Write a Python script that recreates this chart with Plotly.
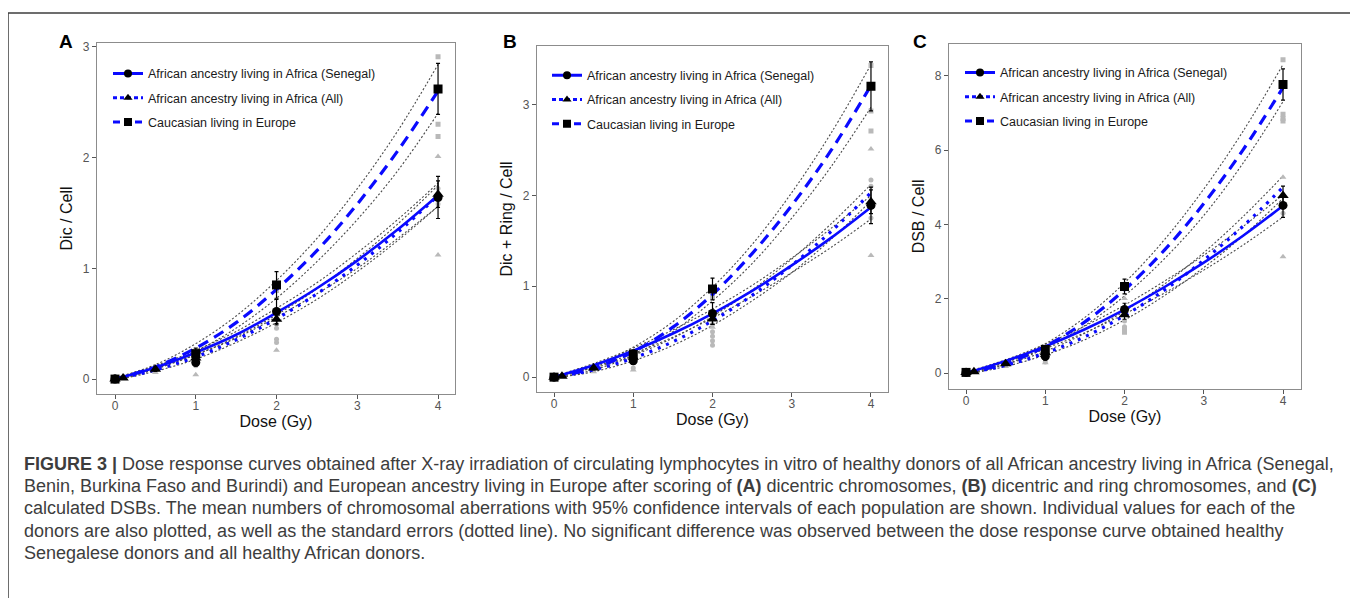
import plotly.graph_objects as go

# the page body adds an 8px margin, so the figure is drawn 8px smaller and shifted
OFF = 8
W, H = 1358 - OFF, 598 - OFF

# ---------------- data ----------------
DOSE_GRID = [0, 0.5, 1, 1.5, 2, 2.5, 3, 3.5, 4]

SERIES_NAMES = ["African ancestry living in Africa (Senegal)",
                "African ancestry living in Africa (All)",
                "Caucasian living in Europe"]

# Panel A : Dic / Cell
A_SEN_FIT = [0, 0.105, 0.24, 0.40, 0.60, 0.82, 1.07, 1.35, 1.66]
A_SEN_UP = [0.01, 0.12, 0.26, 0.43, 0.64, 0.87, 1.14, 1.44, 1.77]
A_SEN_LO = [-0.01, 0.09, 0.22, 0.37, 0.56, 0.77, 1.00, 1.27, 1.56]
A_ALL_FIT = [0, 0.083, 0.20, 0.355, 0.545, 0.77, 1.03, 1.325, 1.656]
A_ALL_UP = [0.01, 0.10, 0.22, 0.38, 0.58, 0.815, 1.09, 1.40, 1.75]
A_ALL_LO = [-0.01, 0.07, 0.18, 0.33, 0.51, 0.72, 0.97, 1.25, 1.56]
A_EUR_FIT = [0, 0.11, 0.28, 0.51, 0.81, 1.16, 1.58, 2.06, 2.60]
A_EUR_UP = [0.01, 0.13, 0.32, 0.57, 0.89, 1.27, 1.72, 2.24, 2.84]
A_EUR_LO = [-0.01, 0.09, 0.25, 0.46, 0.73, 1.06, 1.44, 1.88, 2.40]
A_SEN_X = [0, 1, 2, 4]
A_SEN_Y = [0.0, 0.15, 0.61, 1.64]
A_SEN_ERR = [0.01, 0.03, 0.11, 0.19]
A_ALL_X = [0, 0.1, 0.5, 1, 2, 4]
A_ALL_Y = [0.0, 0.01, 0.09, 0.19, 0.54, 1.67]
A_ALL_ERR = [0.005, 0.01, 0.02, 0.03, 0.05, 0.12]
A_EUR_X = [0, 1, 2, 4]
A_EUR_Y = [0.0, 0.23, 0.85, 2.62]
A_EUR_ERR = [0.01, 0.05, 0.12, 0.23]
A_SEN_IND_X = [0, 0, 1, 1, 2, 2, 2, 4, 4]
A_SEN_IND_Y = [0.0, 0.01, 0.12, 0.18, 0.46, 0.36, 0.33, 1.72, 1.58]
A_ALL_IND_X = [0.5, 1, 2, 4, 4]
A_ALL_IND_Y = [0.06, 0.04, 0.26, 2.01, 1.12]
A_EUR_IND_X = [0, 1, 2, 4, 4, 4]
A_EUR_IND_Y = [0.0, 0.20, 0.80, 2.91, 2.30, 2.19]

# Panel B : Dic + Ring / Cell
B_SEN_FIT = [0, 0.13, 0.29, 0.48, 0.70, 0.95, 1.23, 1.535, 1.87]
B_SEN_UP = [0.01, 0.15, 0.32, 0.52, 0.75, 1.01, 1.31, 1.64, 2.00]
B_SEN_LO = [-0.01, 0.11, 0.26, 0.44, 0.65, 0.89, 1.15, 1.43, 1.74]
B_ALL_FIT = [0, 0.08, 0.21, 0.39, 0.62, 0.90, 1.23, 1.605, 2.03]
B_ALL_UP = [0.01, 0.10, 0.24, 0.43, 0.67, 0.96, 1.30, 1.69, 2.12]
B_ALL_LO = [-0.01, 0.06, 0.18, 0.35, 0.57, 0.84, 1.15, 1.52, 1.94]
B_EUR_FIT = [0, 0.10, 0.28, 0.55, 0.91, 1.36, 1.89, 2.50, 3.21]
B_EUR_UP = [0.01, 0.12, 0.33, 0.61, 0.99, 1.46, 2.03, 2.69, 3.44]
B_EUR_LO = [-0.01, 0.08, 0.24, 0.50, 0.84, 1.25, 1.75, 2.32, 2.97]
B_SEN_X = [0, 1, 2, 4]
B_SEN_Y = [0.0, 0.18, 0.70, 1.89]
B_SEN_ERR = [0.01, 0.04, 0.12, 0.20]
B_ALL_X = [0, 0.1, 0.5, 1, 2, 4]
B_ALL_Y = [0.0, 0.01, 0.10, 0.22, 0.64, 1.93]
B_ALL_ERR = [0.005, 0.01, 0.02, 0.03, 0.06, 0.13]
B_EUR_X = [0, 1, 2, 4]
B_EUR_Y = [0.0, 0.25, 0.97, 3.20]
B_EUR_ERR = [0.01, 0.05, 0.12, 0.27]
B_SEN_IND_X = [0, 1, 2, 2, 2, 2, 2, 4, 4, 4]
B_SEN_IND_Y = [0.0, 0.10, 0.58, 0.50, 0.45, 0.40, 0.35, 2.17, 2.10, 1.75]
B_ALL_IND_X = [0.5, 1, 2, 4, 4]
B_ALL_IND_Y = [0.06, 0.08, 0.55, 2.51, 1.34]
B_EUR_IND_X = [0, 1, 2, 4, 4, 4]
B_EUR_IND_Y = [0.0, 0.22, 0.88, 3.43, 2.93, 2.71]

# Panel C : DSB / Cell
C_SEN_FIT = [0, 0.33, 0.72, 1.18, 1.71, 2.31, 2.97, 3.70, 4.50]
C_SEN_UP = [0.03, 0.36, 0.78, 1.27, 1.83, 2.47, 3.17, 3.95, 4.80]
C_SEN_LO = [-0.03, 0.29, 0.66, 1.09, 1.59, 2.15, 2.77, 3.45, 4.20]
C_ALL_FIT = [0, 0.21, 0.54, 0.98, 1.55, 2.23, 3.04, 3.96, 5.00]
C_ALL_UP = [0.03, 0.24, 0.59, 1.07, 1.67, 2.39, 3.24, 4.22, 5.30]
C_ALL_LO = [-0.03, 0.18, 0.49, 0.90, 1.43, 2.08, 2.84, 3.70, 4.70]
C_EUR_FIT = [0, 0.26, 0.72, 1.38, 2.24, 3.30, 4.56, 6.02, 7.68]
C_EUR_UP = [0.03, 0.29, 0.79, 1.50, 2.43, 3.58, 4.95, 6.52, 8.30]
C_EUR_LO = [-0.03, 0.24, 0.67, 1.28, 2.08, 3.07, 4.24, 5.66, 7.30]
C_SEN_X = [0, 1, 2, 4]
C_SEN_Y = [0.02, 0.45, 1.71, 4.51]
C_SEN_ERR = [0.02, 0.10, 0.17, 0.32]
C_ALL_X = [0, 0.1, 0.5, 1, 2, 4]
C_ALL_Y = [0.02, 0.04, 0.25, 0.55, 1.57, 4.78]
C_ALL_ERR = [0.01, 0.02, 0.04, 0.06, 0.12, 0.25]
C_EUR_X = [0, 1, 2, 4]
C_EUR_Y = [0.02, 0.64, 2.33, 7.76]
C_EUR_ERR = [0.03, 0.10, 0.20, 0.42]
C_SEN_IND_X = [0, 1, 2, 2, 4]
C_SEN_IND_Y = [0.0, 0.30, 1.40, 1.25, 4.30]
C_ALL_IND_X = [0.5, 1, 2, 4, 4]
C_ALL_IND_Y = [0.18, 0.28, 2.01, 5.27, 3.13]
C_EUR_IND_X = [0, 1, 2, 2, 4, 4, 4, 4]
C_EUR_IND_Y = [0.0, 0.55, 1.20, 1.10, 8.43, 6.96, 6.85, 6.78]

X_TICKS = [0, 1, 2, 3, 4]
A_Y_TICKS = [0, 1, 2, 3]
B_Y_TICKS = [0, 1, 2, 3]
C_Y_TICKS = [0, 2, 4, 6, 8]

CAPTION_LINES = [
    "<b>FIGURE 3 |</b> Dose response curves obtained after X-ray irradiation of circulating lymphocytes in vitro of healthy donors of all African ancestry living in Africa (Senegal,",
    "Benin, Burkina Faso and Burindi) and European ancestry living in Europe after scoring of <b>(A)</b> dicentric chromosomes, <b>(B)</b> dicentric and ring chromosomes, and <b>(C)</b>",
    "calculated DSBs. The mean numbers of chromosomal aberrations with 95% confidence intervals of each population are shown. Individual values for each of the",
    "donors are also plotted, as well as the standard errors (dotted line). No significant difference was observed between the dose response curve obtained healthy",
    "Senegalese donors and all healthy African donors.",
]

# ---------------- layout geometry (window pixels) ----------------
def px_x(p):
    return (p - OFF) / W

def px_y(p):
    return 1 - (p - OFF) / H

panels = [
    dict(label="A", ytitle="Dic / Cell", box=(97, 455, 40, 393), xr=[-0.223, 4.21], yr=[-0.135, 3.036],
         yticks=A_Y_TICKS, lab=(66, 39), leg=(108, 56),
         fits=[(A_SEN_FIT, A_SEN_UP, A_SEN_LO), (A_ALL_FIT, A_ALL_UP, A_ALL_LO), (A_EUR_FIT, A_EUR_UP, A_EUR_LO)],
         means=[(A_SEN_X, A_SEN_Y, A_SEN_ERR), (A_ALL_X, A_ALL_Y, A_ALL_ERR), (A_EUR_X, A_EUR_Y, A_EUR_ERR)],
         ind=[(A_SEN_IND_X, A_SEN_IND_Y), (A_ALL_IND_X, A_ALL_IND_Y), (A_EUR_IND_X, A_EUR_IND_Y)]),
    dict(label="B", ytitle="Dic + Ring / Cell", box=(537, 888, 43, 391), xr=[-0.215, 4.215], yr=[-0.164, 3.646],
         yticks=B_Y_TICKS, lab=(510, 39), leg=(547, 58),
         fits=[(B_SEN_FIT, B_SEN_UP, B_SEN_LO), (B_ALL_FIT, B_ALL_UP, B_ALL_LO), (B_EUR_FIT, B_EUR_UP, B_EUR_LO)],
         means=[(B_SEN_X, B_SEN_Y, B_SEN_ERR), (B_ALL_X, B_ALL_Y, B_ALL_ERR), (B_EUR_X, B_EUR_Y, B_EUR_ERR)],
         ind=[(B_SEN_IND_X, B_SEN_IND_Y), (B_ALL_IND_X, B_ALL_IND_Y), (B_EUR_IND_X, B_EUR_IND_Y)]),
    dict(label="C", ytitle="DSB / Cell", box=(949, 1301, 41, 388), xr=[-0.215, 4.227], yr=[-0.428, 8.856],
         yticks=C_Y_TICKS, lab=(920, 39), leg=(960, 55),
         fits=[(C_SEN_FIT, C_SEN_UP, C_SEN_LO), (C_ALL_FIT, C_ALL_UP, C_ALL_LO), (C_EUR_FIT, C_EUR_UP, C_EUR_LO)],
         means=[(C_SEN_X, C_SEN_Y, C_SEN_ERR), (C_ALL_X, C_ALL_Y, C_ALL_ERR), (C_EUR_X, C_EUR_Y, C_EUR_ERR)],
         ind=[(C_SEN_IND_X, C_SEN_IND_Y), (C_ALL_IND_X, C_ALL_IND_Y), (C_EUR_IND_X, C_EUR_IND_Y)]),
]

BLUE = "#0a0aff"
LINE_DASH = ["solid", "3px,6px", "11px,7px"]
LINE_W = [2.6, 3.2, 3.2]
LEG_DASH = ["solid", "4px,3px", "7px,4px"]
SYMBOLS = ["circle", "triangle-up", "square"]
MEAN_SIZE = [9, 10, 9]
IND_SIZE = [5, 6, 5]
FONT = "Liberation Sans, Arial, sans-serif"

fig = go.Figure()
layout_axes = {}
annotations = []
legends = {}

for i, p in enumerate(panels):
    n = "" if i == 0 else str(i + 1)
    xa, ya = "x" + n, "y" + n
    leg_name = "legend" + n
    l, r, t, b = p["box"]

    # confidence bands (dotted grey)
    for fit, up, lo in p["fits"]:
        for band in (up, lo):
            fig.add_trace(go.Scatter(x=DOSE_GRID, y=band, mode="lines", line_shape="spline",
                                     line=dict(color="#4a4a4a", width=1.1, dash="2px,2px"),
                                     xaxis=xa, yaxis=ya, showlegend=False, hoverinfo="skip"))
    # individual donor values (light grey)
    for k, (ix, iy) in enumerate(p["ind"]):
        fig.add_trace(go.Scatter(x=ix, y=iy, mode="markers",
                                 marker=dict(symbol=SYMBOLS[k], size=IND_SIZE[k], color="#b9b9b9"),
                                 xaxis=xa, yaxis=ya, showlegend=False))
    # fitted curves (blue)
    for k, (fit, up, lo) in enumerate(p["fits"]):
        fig.add_trace(go.Scatter(x=DOSE_GRID, y=fit, mode="lines", line_shape="spline",
                                 line=dict(color=BLUE, width=LINE_W[k], dash=LINE_DASH[k]),
                                 xaxis=xa, yaxis=ya, showlegend=False))
    # means with error bars (black)
    for k, (mx, my, me) in enumerate(p["means"]):
        fig.add_trace(go.Scatter(x=mx, y=my, mode="markers",
                                 marker=dict(symbol=SYMBOLS[k], size=MEAN_SIZE[k], color="black"),
                                 error_y=dict(type="data", array=me, color="black", thickness=1.2, width=2),
                                 xaxis=xa, yaxis=ya, showlegend=False))
    # legend entries
    for k in range(3):
        fig.add_trace(go.Scatter(x=[None], y=[None], mode="lines+markers", name=SERIES_NAMES[k],
                                 line=dict(color=BLUE, width=3, dash=LEG_DASH[k]),
                                 marker=dict(symbol=SYMBOLS[k], size=8, color="black"),
                                 xaxis=xa, yaxis=ya, legend=leg_name, legendgroup=f"{i}-{k}"))
    legends[leg_name] = dict(x=px_x(p["leg"][0]), y=px_y(p["leg"][1]), xanchor="left", yanchor="top",
                             bgcolor="rgba(0,0,0,0)", font=dict(size=12.5, color="#1a1a1a", family=FONT),
                             tracegroupgap=5, itemwidth=30)

    common = dict(showline=True, mirror=True, linecolor="#8c8c8c", linewidth=1.3,
                  ticks="outside", ticklen=4, tickcolor="#555555", tickwidth=1,
                  tickfont=dict(size=12, color="#555555"), showgrid=False, zeroline=False)
    layout_axes["xaxis" + n] = dict(domain=[px_x(l), px_x(r)], range=p["xr"], anchor=ya,
                                    tickvals=X_TICKS, ticklabelstandoff=-4,
                                    title=dict(text="Dose (Gy)", font=dict(size=16, color="#111111"), standoff=2),
                                    **common)
    layout_axes["yaxis" + n] = dict(domain=[px_y(b), px_y(t)], range=p["yr"], anchor=xa,
                                    tickvals=p["yticks"],
                                    title=dict(text=p["ytitle"], font=dict(size=16, color="#111111"), standoff=6),
                                    **common)
    annotations.append(dict(text="<b>%s</b>" % p["label"], x=px_x(p["lab"][0]), y=px_y(p["lab"][1]),
                            xref="paper", yref="paper", showarrow=False, xanchor="center", yanchor="middle",
                            font=dict(size=19, color="black", family=FONT)))

CAPTION_Y0, CAPTION_STEP = 463, 22.5
for j, line in enumerate(CAPTION_LINES):
    annotations.append(dict(text=line, x=px_x(22), y=px_y(CAPTION_Y0 + j * CAPTION_STEP),
                            xref="paper", yref="paper", showarrow=False, xanchor="left", yanchor="middle",
                            align="left", font=dict(size=18, color="#3d3d3d", family=FONT)))

frame_color = "#3c3c3c"
shapes = [
    dict(type="line", xref="paper", yref="paper", x0=px_x(8), x1=px_x(1355), y0=px_y(10), y1=px_y(10),
         line=dict(color=frame_color, width=1.5)),
    dict(type="line", xref="paper", yref="paper", x0=px_x(8), x1=px_x(8), y0=px_y(10), y1=px_y(598),
         line=dict(color=frame_color, width=1.5)),
    dict(type="line", xref="paper", yref="paper", x0=px_x(1355), x1=px_x(1355), y0=px_y(10), y1=px_y(598),
         line=dict(color=frame_color, width=1.5)),
]

fig.update_layout(width=W, height=H, margin=dict(l=0, r=0, t=0, b=0),
                  paper_bgcolor="white", plot_bgcolor="white",
                  font=dict(family=FONT),
                  annotations=annotations, shapes=shapes, **layout_axes, **legends)

fig.write_html("out.html")
